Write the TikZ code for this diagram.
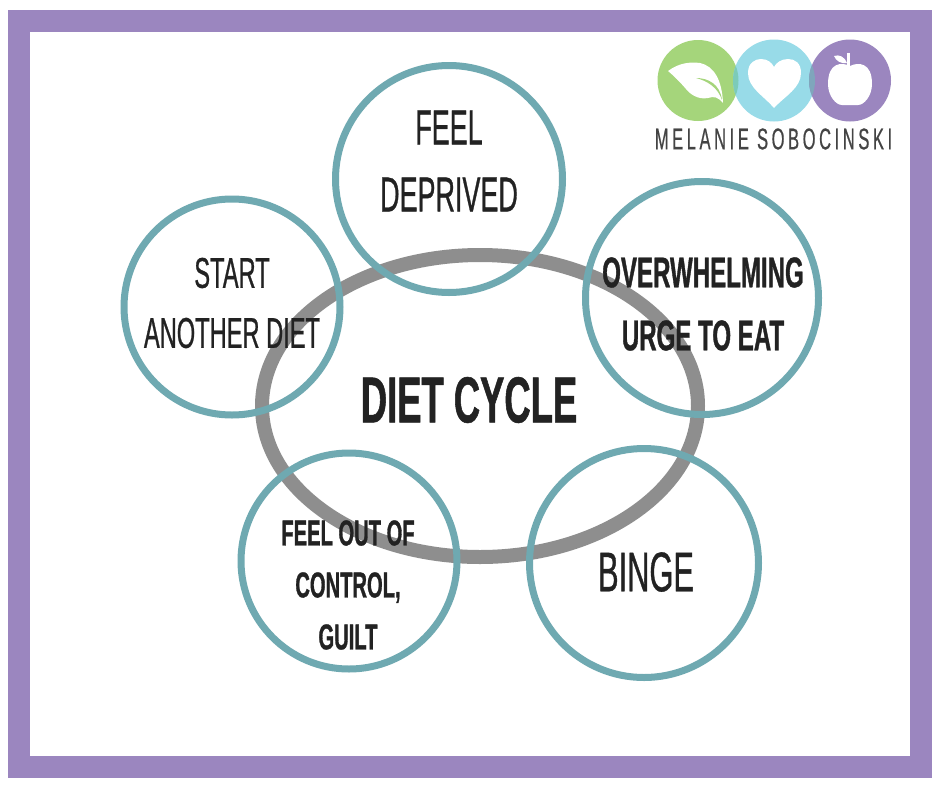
\documentclass[tikz,border=0pt]{standalone}
\usepackage{fontspec}
\usepackage{xcolor}
\usepackage{tikz}
\usetikzlibrary{positioning,shapes.geometric}
\setmainfont{Liberation Sans}
\newfontfamily\thinfont[FakeStretch=0.55,FakeBold=0.6]{Liberation Sans}
\newfontfamily\fatfont[FakeStretch=0.56,FakeBold=0.8]{Liberation Sans Bold}
\newfontfamily\logofont[FakeStretch=0.55,FakeBold=0.5,LetterSpace=12]{Liberation Sans}
\definecolor{FramePurple}{HTML}{9B86BF}
\definecolor{RingTeal}{HTML}{6FA9B1}
\definecolor{CycleGray}{HTML}{8E8E8E}
\definecolor{InkDark}{HTML}{222222}
\definecolor{LogoGreen}{HTML}{A5D57B}
\definecolor{LogoCyan}{HTML}{98DBE8}
\definecolor{LogoText}{HTML}{444444}
\definecolor{LapGreen}{HTML}{7CCBB8}
\definecolor{LapCyan}{HTML}{7FA6BC}

\begin{document}
\begin{tikzpicture}[x=1pt,y=-1pt]
	\tikzset{
		ring/.style={circle, draw=RingTeal, line width=7pt, inner sep=0pt,
			text=InkDark, align=center},
		lab/.style={text=InkDark, align=center, inner sep=0pt},
		dot/.style={circle, inner sep=0pt, minimum size=#1}
	}
	\useasboundingbox (0,0) rectangle (940,788);
	\fill[white] (0,0) rectangle (940,788);
	
	% ======= Frame =======
	\draw[FramePurple, line width=22pt] (19,21) rectangle (921,767);
	
	% ======= Cycle and rings =======
	\node[ellipse, draw=CycleGray, line width=14pt, inner sep=0pt,
		minimum width=436pt, minimum height=302pt] (cycle) at (480,406) {};
	\node[ring, minimum size=227pt] (deprived) at (449,179) {};
	\node[ring, minimum size=216pt] (start) at (232,307) {};
	\node[ring, minimum size=233pt] (urge) at (702,298) {};
	\node[ring, minimum size=229pt] (binge) at (644,563) {};
	\node[ring, minimum size=216pt] (guilt) at (349,561) {};
	
	% ======= Labels =======
	\node[lab, font=\thinfont\fontsize{49}{67}\selectfont] at (449,161) {FEEL\\DEPRIVED};
	\node[lab, font=\thinfont\fontsize{43}{60}\selectfont] at (232,303) {START\\ANOTHER DIET};
	\node[lab, font=\fatfont\fontsize{43}{63}\selectfont] at (703,304) {OVERWHELMING\\URGE TO EAT};
	\node[lab, font=\thinfont\fontsize{56}{60}\selectfont] at (646,572) {BINGE};
	\node[lab, font=\fatfont\fontsize{36}{52}\selectfont] at (348,585) {FEEL OUT OF\\CONTROL,\\GUILT};
	\node[lab, font=\fatfont\fontsize{65}{70}\selectfont] at (469,400) {DIET CYCLE};
	
	% ======= Logo =======
	\node[dot=81pt, fill=LogoGreen] (lgreen) at (698,80.5) {};
	\node[dot=82pt, fill=LogoCyan] (lcyan) at (774,80.5) {};
	\node[dot=82pt, fill=FramePurple] (lpurple) at (850,80.5) {};
	\begin{scope}
		\clip (698,80.5) circle (40.5);
		\fill[LapGreen] (774,80.5) circle (41);
	\end{scope}
	\begin{scope}
		\clip (774,80.5) circle (41);
		\fill[LapCyan] (850,80.5) circle (41);
	\end{scope}
	% leaf
	\fill[white] (668,71) .. controls (680,62) and (692,62) .. (700,63)
		.. controls (714,66) and (722,80) .. (723,103)
		.. controls (718,97) and (714,96) .. (708,98)
		.. controls (698,100) and (690,94) .. (686,89)
		.. controls (680,82) and (674,76) .. (668,71) -- cycle;
	\fill[LogoGreen] (696,78) .. controls (708,78) and (720,84) .. (722,100)
		.. controls (718,88) and (708,81) .. (696,78) -- cycle;
	% heart
	\fill[white] (774,108) .. controls (764,96) and (748,88) .. (748,73)
		.. controls (748,62) and (756,59) .. (761,59)
		.. controls (768,59) and (772,63) .. (774,67)
		.. controls (776,63) and (781,59) .. (788,59)
		.. controls (795,59) and (801,63) .. (801,73)
		.. controls (801,88) and (785,96) .. (774,108) -- cycle;
	% apple
	\fill[white] (850,66) .. controls (842,62) and (828,62) .. (828,84)
		.. controls (828,96) and (836,105) .. (842,105)
		.. controls (846,105) and (854,105) .. (858,105)
		.. controls (864,105) and (872,96) .. (872,84)
		.. controls (872,62) and (858,62) .. (850,66) -- cycle;
	\fill[white] (834,56) .. controls (839,54) and (845,57) .. (847,63)
		.. controls (841,64) and (836,61) .. (834,56) -- cycle;
	\fill[white] (847,53) rectangle (850,66);
	\node[inner sep=0pt, text=LogoText, font=\logofont\fontsize{30}{30}\selectfont]
		(lname) at (773.5,139) {MELANIE SOBOCINSKI};
\end{tikzpicture}
\end{document}
